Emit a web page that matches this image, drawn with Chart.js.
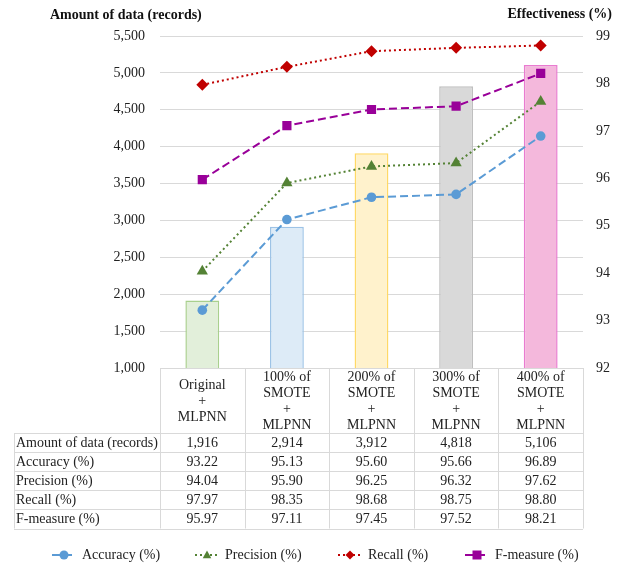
<!DOCTYPE html>
<html>
<head>
<meta charset="utf-8">
<script src="https://cdn.jsdelivr.net/npm/chart.js@4.4.1/dist/chart.umd.min.js"></script>
<style>
  body { margin: 0; background: #fff; }
  canvas { display: block; }
</style>
</head>
<body>
<canvas id="smoteChart" width="624" height="564"></canvas>
<script>
// Column headers (multi-line) and values
const categories = [
    ["Original", "+", "MLPNN"],
    ["100% of", "SMOTE", "+", "MLPNN"],
    ["200% of", "SMOTE", "+", "MLPNN"],
    ["300% of", "SMOTE", "+", "MLPNN"],
    ["400% of", "SMOTE", "+", "MLPNN"],
];
const records = [1916, 2914, 3912, 4818, 5106];
const accuracy = [93.22, 95.13, 95.60, 95.66, 96.89];
const precision = [94.04, 95.90, 96.25, 96.32, 97.62];
const recall = [97.97, 98.35, 98.68, 98.75, 98.80];
const fMeasure = [95.97, 97.11, 97.45, 97.52, 98.21];

const rowLabels = ["Amount of data (records)", "Accuracy (%)", "Precision (%)", "Recall (%)", "F-measure (%)"];
const leftAxisRange = [1000, 5500, 500];
const rightAxisRange = [92, 99, 1];

const barFill = ["#e2efda", "#ddebf7", "#fff2cc", "#d9d9d9", "#f4b8dc"];
const barEdge = ["#a9d08e", "#9dc3e6", "#ffd966", "#bfbfbf", "#e97bd0"];

const FONT = "'Liberation Serif', 'Times New Roman', serif";

// draw a marker like the chart points
function drawMarker(ctx, style, x, y, r, color) {
    ctx.save();
    ctx.fillStyle = color;
    ctx.setLineDash([]);
    ctx.beginPath();
    if (style === "circle") {
        ctx.arc(x, y, r, 0, Math.PI * 2);
    } else if (style === "triangle") {
        ctx.moveTo(x, y - r);
        ctx.lineTo(x + r * 0.95, y + r * 0.7);
        ctx.lineTo(x - r * 0.95, y + r * 0.7);
    } else if (style === "rectRot") {
        ctx.moveTo(x, y - r);
        ctx.lineTo(x + r, y);
        ctx.lineTo(x, y + r);
        ctx.lineTo(x - r, y);
    } else {
        ctx.rect(x - r, y - r, r * 2, r * 2);
    }
    ctx.closePath();
    ctx.fill();
    ctx.restore();
}

const tablePlugin = {
    id: "dataTable",
    afterDraw(chart) {
        const ctx = chart.ctx;
        const area = chart.chartArea;
        const xs = chart.scales.x;
        const n = categories.length;
        const colW = (area.right - area.left) / n;
        const headTop = area.bottom;
        const headBottom = headTop + 65;
        const rowH = 19.1;
        const tableLeft = 14;
        const tableBottom = headBottom + rowH * rowLabels.length;

        ctx.save();
        ctx.strokeStyle = "#d9d9d9";
        ctx.lineWidth = 1;
        ctx.setLineDash([]);
        ctx.beginPath();
        // vertical lines
        for (let i = 0; i <= n; i++) {
            const x = Math.round(area.left + i * colW) + 0.5;
            ctx.moveTo(x, headTop);
            ctx.lineTo(x, tableBottom);
        }
        ctx.moveTo(tableLeft + 0.5, headBottom);
        ctx.lineTo(tableLeft + 0.5, tableBottom);
        // horizontal lines
        ctx.moveTo(area.left, Math.round(headTop) + 0.5);
        ctx.lineTo(area.right, Math.round(headTop) + 0.5);
        for (let r = 0; r <= rowLabels.length; r++) {
            const y = Math.round(headBottom + r * rowH) + 0.5;
            ctx.moveTo(tableLeft, y);
            ctx.lineTo(area.right, y);
        }
        ctx.stroke();

        ctx.fillStyle = "#222";
        ctx.font = "14px " + FONT;
        ctx.textBaseline = "middle";
        ctx.textAlign = "center";
        categories.forEach((lines, i) => {
            const cx = xs.getPixelForValue(i);
            const mid = (headTop + headBottom) / 2 + 0.5;
            lines.forEach((t, k) => {
                ctx.fillText(t, cx, mid + (k - (lines.length - 1) / 2) * 16);
            });
        });

        const rows = [records, accuracy, precision, recall, fMeasure];
        rows.forEach((vals, r) => {
            const cy = headBottom + r * rowH + rowH / 2 + 0.5;
            ctx.textAlign = "left";
            ctx.fillText(rowLabels[r], tableLeft + 2, cy);
            ctx.textAlign = "center";
            vals.forEach((v, i) => {
                const txt = r === 0 ? v.toLocaleString("en-US") : v.toFixed(2);
                ctx.fillText(txt, xs.getPixelForValue(i), cy);
            });
        });

        // axis titles
        ctx.font = "bold 14px " + FONT;
        ctx.fillStyle = "#111";
        ctx.textAlign = "left";
        ctx.fillText("Amount of data (records)", 50, 15);
        ctx.textAlign = "right";
        ctx.fillText("Effectiveness (%)", 612, 14);

        // legend
        const legendX = [52, 195, 338, 465];
        const legendY = 555;
        ctx.font = "14px " + FONT;
        ctx.textAlign = "left";
        chart.data.datasets.filter(d => d.type === "line").forEach((d, i) => {
            const x0 = legendX[i];
            ctx.save();
            ctx.strokeStyle = d.borderColor;
            ctx.lineWidth = 2;
            ctx.setLineDash(d.borderDash);
            ctx.beginPath();
            ctx.moveTo(x0, legendY);
            ctx.lineTo(x0 + 24, legendY);
            ctx.stroke();
            ctx.restore();
            drawMarker(ctx, d.pointStyle, x0 + 12, legendY, 4.5, d.borderColor);
            ctx.fillStyle = "#222";
            ctx.fillText(d.label, x0 + 30, legendY);
        });
        ctx.restore();
    },
};

const lineSet = (label, data, color, dash, style, radius) => ({
    type: "line",
    label: label,
    data: data,
    yAxisID: "y1",
    borderColor: color,
    backgroundColor: color,
    borderWidth: 2,
    borderDash: dash,
    pointStyle: style,
    pointRadius: radius,
    pointHoverRadius: radius,
    pointBorderWidth: 0,
    tension: 0,
    order: 1,
});

new Chart(document.getElementById("smoteChart").getContext("2d"), {
    data: {
        labels: categories.map(c => c.join(" ")),
        datasets: [
            {
                type: "bar",
                label: "Amount of data (records)",
                data: records,
                yAxisID: "y",
                backgroundColor: barFill,
                borderColor: barEdge,
                borderWidth: 1.5,
                barPercentage: 0.4,
                categoryPercentage: 1,
                order: 10,
            },
            lineSet("Accuracy (%)", accuracy, "#5b9bd5", [8, 4], "circle", 4.8),
            lineSet("Precision (%)", precision, "#548235", [2, 3], "triangle", 6.5),
            lineSet("Recall (%)", recall, "#c00000", [2, 3], "rectRot", 6),
            lineSet("F-measure (%)", fMeasure, "#990099", [8, 4], "rect", 6.5),
        ],
    },
    options: {
        responsive: false,
        animation: false,
        layout: { padding: { top: 36, bottom: 196, left: 0, right: 0 } },
        plugins: {
            legend: { display: false },
            tooltip: { enabled: false },
        },
        scales: {
            x: { display: false, offset: true },
            y: {
                position: "left",
                min: leftAxisRange[0],
                max: leftAxisRange[1],
                afterFit: s => { s.width = 160; },
                border: { display: false },
                grid: { color: "#d9d9d9", drawTicks: false },
                ticks: {
                    stepSize: leftAxisRange[2],
                    padding: 15,
                    color: "#222",
                    font: { family: FONT, size: 14 },
                    callback: v => v.toLocaleString("en-US"),
                },
            },
            y1: {
                position: "right",
                min: rightAxisRange[0],
                max: rightAxisRange[1],
                afterFit: s => { s.width = 41; },
                border: { display: false },
                grid: { display: false, drawTicks: false },
                ticks: {
                    stepSize: rightAxisRange[2],
                    padding: 13,
                    color: "#222",
                    font: { family: FONT, size: 14 },
                },
            },
        },
    },
    plugins: [tablePlugin],
});
</script>
</body>
</html>
